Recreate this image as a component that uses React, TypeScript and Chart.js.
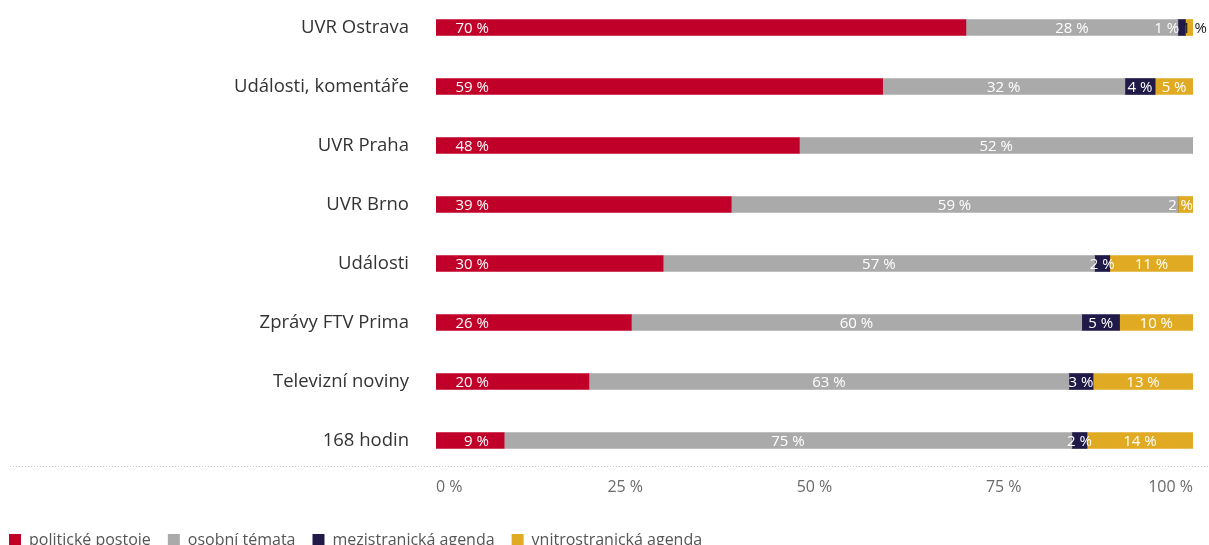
import React, { useEffect, useRef } from "react";
import { Chart, registerables } from "chart.js";

Chart.register(...registerables);

const categories = [
  "UVR Ostrava",
  "Události, komentáře",
  "UVR Praha",
  "UVR Brno",
  "Události",
  "Zprávy FTV Prima",
  "Televizní noviny",
  "168 hodin",
];

const seriesNames = [
  "politické postoje",
  "osobní témata",
  "mezistranická agenda",
  "vnitrostranická agenda",
];

const politicalStances = [70, 59, 48, 39, 30, 25.8, 20.2, 9];
const personalTopics = [28, 32, 52, 59, 57, 59.5, 63.4, 75];
const interPartyAgenda = [1, 4, 0, 0, 2, 5, 3.2, 2];
const intraPartyAgenda = [1, 5, 0, 2, 11, 9.7, 13.2, 14];

const xTicks = [0, 25, 50, 75, 100];
const redLabelEnd = 7;

const colors = ["#c00028", "#aaaaaa", "#201a48", "#e0ab22"];
const FONT = '"Open Sans", "Noto Sans", sans-serif';

const segLabels = {
  id: "segLabels",
  afterDatasetsDraw(chart: any) {
    const ctx = chart.ctx;
    const xs = chart.scales.x;
    const area = chart.chartArea;
    ctx.save();
    ctx.font = `15px ${FONT}`;
    ctx.textBaseline = "middle";
    ctx.textAlign = "center";
    categories.forEach((_, i) => {
      const items: any[] = [];
      chart.data.datasets.forEach((ds: any, d: number) => {
        const v = ds.data[i];
        if (!v) return;
        const bar = chart.getDatasetMeta(d).data[i];
        const text = Math.round(v) + " %";
        const w = ctx.measureText(text).width;
        const left = Math.min(bar.base, bar.x);
        const right = Math.max(bar.base, bar.x);
        let cx;
        if (d === 0) cx = xs.getPixelForValue(redLabelEnd) - w / 2;
        else cx = (left + right) / 2;
        items.push({ text, w, cx, y: bar.y });
      });
      items.forEach((it) => {
        if (it.cx + it.w / 2 > area.right) it.cx = area.right - it.w / 2;
      });
      for (let k = items.length - 1; k > 0; k--) {
        const a = items[k - 1];
        const b = items[k];
        const overlap = a.cx + a.w / 2 + 3 - (b.cx - b.w / 2);
        if (overlap > 0) {
          a.cx -= overlap / 2;
          b.cx += overlap / 2;
        }
      }
      items.forEach((it) => {
        ctx.fillStyle = it.cx + it.w / 2 > area.right + 1 ? "#1a1a1a" : "#ffffff";
        ctx.fillText(it.text, it.cx, it.y + 1);
      });
    });
    ctx.restore();
  },
};

const dottedLine = {
  id: "dottedLine",
  beforeDatasetsDraw(chart: any) {
    const ctx = chart.ctx;
    const y = Math.round(chart.chartArea.bottom - 4) + 0.5;
    ctx.save();
    ctx.strokeStyle = "#c8c8c8";
    ctx.lineWidth = 1;
    ctx.setLineDash([1, 2]);
    ctx.beginPath();
    ctx.moveTo(18, y);
    ctx.lineTo(chart.width, y);
    ctx.stroke();
    ctx.restore();
  },
};

export default function App() {
  const ref = useRef<HTMLCanvasElement | null>(null);

  useEffect(() => {
    if (!ref.current) return;
    const data = [politicalStances, personalTopics, interPartyAgenda, intraPartyAgenda];
    const chart = new Chart(ref.current, {
      type: "bar",
      data: {
        labels: categories,
        datasets: data.map((d, k) => ({
          label: seriesNames[k],
          data: d,
          backgroundColor: colors[k],
          borderWidth: 0,
          barThickness: 16,
        })),
      },
      options: {
        indexAxis: "y",
        animation: false,
        responsive: false,
        maintainAspectRatio: false,
        layout: { padding: { top: 1, right: 16, bottom: 39, left: 0 } },
        scales: {
          x: {
            stacked: true,
            min: 0,
            max: 100,
            afterBuildTicks: (s: any) => {
              s.ticks = xTicks.map((v) => ({ value: v }));
            },
            afterFit: (s: any) => {
              s.height = 45;
            },
            grid: { display: false, drawTicks: false },
            border: { display: false },
            ticks: {
              align: "inner",
              padding: 8,
              color: "#6a6a6a",
              font: { family: FONT, size: 16 },
              callback: (v: any) => v + " %",
            },
          },
          y: {
            stacked: true,
            afterFit: (s: any) => {
              s.width = 444;
              s.paddingTop = 0;
              s.paddingBottom = 0;
            },
            grid: { display: false, drawTicks: false },
            border: { display: false },
            ticks: {
              padding: 27,
              color: "#333333",
              font: { family: FONT, size: 18.5 },
            },
          },
        },
        plugins: {
          legend: {
            position: "bottom",
            align: "start",
            labels: {
              boxWidth: 12,
              boxHeight: 12,
              padding: 17,
              color: "#555555",
              font: { family: FONT, size: 16 },
            },
          },
          tooltip: { enabled: false },
        },
      } as any,
      plugins: [segLabels, dottedLine],
    });
    return () => chart.destroy();
  }, []);

  return (
    <div style={{ position: "fixed", top: -3, left: -8, width: 1217, height: 600 }}>
      <canvas ref={ref} width={1217} height={600} style={{ width: 1217, height: 600 }} />
    </div>
  );
}
